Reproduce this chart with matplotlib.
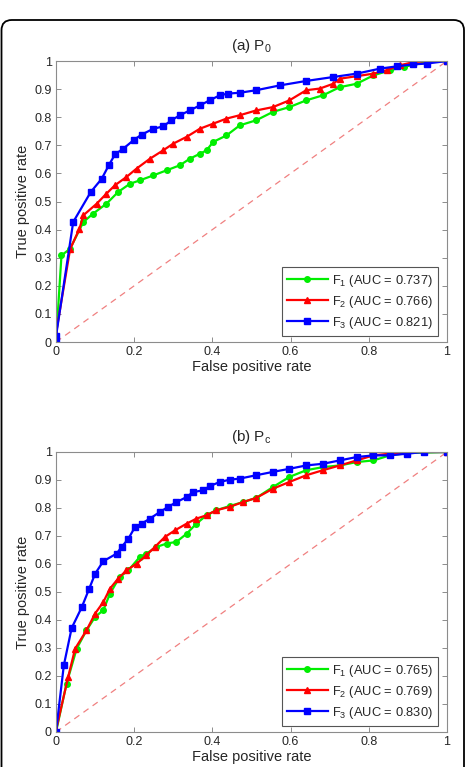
import matplotlib
matplotlib.use("Agg")
import matplotlib.pyplot as plt
from matplotlib.patches import FancyBboxPatch

plt.rcParams['font.family'] = ['Liberation Sans', 'DejaVu Sans']
plt.rcParams['mathtext.default'] = 'regular'

# ---- data: panel (a) P0 ----
a_f1_fpr = [0, 0.014, 0.036, 0.07, 0.095, 0.129, 0.159, 0.189, 0.214, 0.249, 0.283, 0.317, 0.342, 0.368, 0.385,
            0.402, 0.436, 0.47, 0.512, 0.555, 0.597, 0.64, 0.683, 0.726, 0.769, 0.812, 0.854, 0.889, 0.949, 1]
a_f1_tpr = [0, 0.308, 0.332, 0.427, 0.457, 0.492, 0.534, 0.563, 0.575, 0.593, 0.611, 0.629, 0.652, 0.67, 0.682,
            0.712, 0.735, 0.771, 0.789, 0.819, 0.836, 0.86, 0.878, 0.907, 0.919, 0.949, 0.967, 0.979, 0.996, 1]
a_f2_fpr = [0, 0, 0.036, 0.06, 0.07, 0.104, 0.129, 0.151, 0.18, 0.206, 0.24, 0.274, 0.3, 0.334, 0.368, 0.402,
            0.436, 0.47, 0.512, 0.555, 0.597, 0.64, 0.675, 0.709, 0.726, 0.769, 0.812, 0.846, 0.88, 0.914, 0.949, 1]
a_f2_tpr = [0, 0.03, 0.33, 0.403, 0.451, 0.492, 0.528, 0.558, 0.587, 0.617, 0.652, 0.682, 0.706, 0.73, 0.759, 0.777,
            0.795, 0.807, 0.824, 0.836, 0.86, 0.896, 0.902, 0.919, 0.937, 0.946, 0.955, 0.967, 0.985, 0.996, 1.0, 1]
a_f3_fpr = [0, 0, 0.044, 0.089, 0.117, 0.135, 0.151, 0.172, 0.2, 0.219, 0.249, 0.274, 0.295, 0.317, 0.342, 0.368,
            0.393, 0.419, 0.44, 0.47, 0.512, 0.572, 0.64, 0.709, 0.769, 0.829, 0.872, 0.914, 0.949, 1]
a_f3_tpr = [0, 0.02, 0.427, 0.534, 0.581, 0.629, 0.668, 0.688, 0.72, 0.738, 0.759, 0.767, 0.789, 0.807, 0.824, 0.842,
            0.86, 0.878, 0.884, 0.887, 0.896, 0.913, 0.929, 0.943, 0.955, 0.973, 0.981, 0.988, 0.991, 1]

# ---- data: panel (b) Pc ----
b_f1_fpr = [0, 0.027, 0.053, 0.078, 0.1, 0.121, 0.138, 0.163, 0.185, 0.214, 0.231, 0.257, 0.283, 0.308, 0.334, 0.359,
            0.385, 0.41, 0.444, 0.478, 0.512, 0.555, 0.597, 0.64, 0.683, 0.726, 0.769, 0.812, 0.854, 0.897, 1]
b_f1_tpr = [0, 0.173, 0.298, 0.363, 0.411, 0.435, 0.494, 0.554, 0.577, 0.625, 0.637, 0.661, 0.673, 0.679, 0.708, 0.744,
            0.774, 0.792, 0.807, 0.821, 0.836, 0.875, 0.911, 0.935, 0.946, 0.952, 0.964, 0.97, 0.988, 0.996, 1]
b_f2_fpr = [0, 0.031, 0.049, 0.078, 0.1, 0.121, 0.138, 0.159, 0.18, 0.206, 0.231, 0.253, 0.278, 0.304, 0.334, 0.359,
            0.385, 0.41, 0.444, 0.478, 0.512, 0.555, 0.597, 0.64, 0.683, 0.726, 0.769, 0.812, 0.854, 0.897, 1]
b_f2_tpr = [0.006, 0.196, 0.298, 0.363, 0.423, 0.464, 0.512, 0.548, 0.577, 0.601, 0.631, 0.661, 0.696, 0.72, 0.744, 0.762,
            0.774, 0.792, 0.804, 0.821, 0.836, 0.869, 0.893, 0.917, 0.935, 0.952, 0.97, 0.988, 0.994, 1.0, 1]
b_f3_fpr = [0, 0.02, 0.04, 0.066, 0.085, 0.1, 0.121, 0.155, 0.168, 0.185, 0.202, 0.219, 0.24, 0.266, 0.287, 0.308,
            0.334, 0.351, 0.376, 0.393, 0.419, 0.444, 0.47, 0.512, 0.555, 0.597, 0.64, 0.683, 0.726, 0.769, 0.812,
            0.854, 0.897, 0.94, 1]
b_f3_tpr = [0, 0.238, 0.371, 0.446, 0.512, 0.565, 0.61, 0.637, 0.661, 0.69, 0.732, 0.744, 0.762, 0.786, 0.804, 0.821,
            0.839, 0.857, 0.863, 0.878, 0.893, 0.901, 0.905, 0.917, 0.929, 0.94, 0.952, 0.958, 0.97, 0.982, 0.988,
            0.988, 0.994, 1.0, 1]

titles = ['(a) P$_0$', '(b) P$_c$']
auc_a = ['0.737', '0.766', '0.821']
auc_b = ['0.765', '0.769', '0.830']
series_names = ['F$_1$', 'F$_2$', 'F$_3$']
xticks = [0, 0.2, 0.4, 0.6, 0.8, 1]
yticks = [0, 0.1, 0.2, 0.3, 0.4, 0.5, 0.6, 0.7, 0.8, 0.9, 1]
xtick_labels = ['0', '0.2', '0.4', '0.6', '0.8', '1']
ytick_labels = ['0', '0.1', '0.2', '0.3', '0.4', '0.5', '0.6', '0.7', '0.8', '0.9', '1']

W, H = 467, 767
fig = plt.figure(figsize=(W / 100, H / 100), dpi=100)

# rounded outer frame
frame = FancyBboxPatch((1.5 / W, -0.05), (464 - 1.5) / W, (767 - 20) / H + 0.05,
                       boxstyle="round,pad=0,rounding_size=0.022", transform=fig.transFigure,
                       fill=False, edgecolor='black', linewidth=1.3, mutation_aspect=W / H)
fig.patches.append(frame)

styles = [dict(color='#00ee00', marker='o', markersize=4),
          dict(color='#ff0000', marker='^', markersize=5),
          dict(color='#0000ff', marker='s', markersize=4)]

panels = [
    ((56, 61, 447, 342), [(a_f1_fpr, a_f1_tpr), (a_f2_fpr, a_f2_tpr), (a_f3_fpr, a_f3_tpr)], auc_a, titles[0]),
    ((56, 452, 447, 732), [(b_f1_fpr, b_f1_tpr), (b_f2_fpr, b_f2_tpr), (b_f3_fpr, b_f3_tpr)], auc_b, titles[1]),
]

text_col = '#262626'
spine_col = '#8c8c8c'

for (l, t, r, b), curves, aucs, title in panels:
    ax = fig.add_axes([l / W, 1 - b / H, (r - l) / W, (b - t) / H])
    ax.plot([0, 1], [0, 1], linestyle=(0, (5, 4)), color='#f08080', linewidth=0.9)
    for (x, y), st, name, auc in zip(curves, styles, series_names, aucs):
        ax.plot(x, y, linewidth=1.6, label=f'{name} (AUC = {auc})', **st)
    ax.set_xlim(0, 1)
    ax.set_ylim(0, 1)
    ax.set_xticks(xticks)
    ax.set_xticklabels(xtick_labels)
    ax.set_yticks(yticks)
    ax.set_yticklabels(ytick_labels)
    ax.tick_params(direction='in', length=3.5, width=0.7, colors=spine_col, labelcolor=text_col,
                   labelsize=9, top=True, right=True, pad=3)
    for sp in ax.spines.values():
        sp.set_color(spine_col)
        sp.set_linewidth(0.8)
    ax.set_xlabel('False positive rate', fontsize=10.5, color=text_col, labelpad=1)
    ax.set_ylabel('True positive rate', fontsize=10.5, color=text_col, labelpad=3)
    ax.set_title(title, fontsize=11, color=text_col, pad=8)
    leg = ax.legend(loc='lower right', bbox_to_anchor=(0.977, 0.021), borderaxespad=0, fontsize=9.3,
                    fancybox=False, framealpha=1, edgecolor='#555555', handlelength=3.2,
                    handletextpad=0.3, labelspacing=0.4, borderpad=0.4)
    leg.get_frame().set_linewidth(0.8)
    for txt in leg.get_texts():
        txt.set_color(text_col)

fig.savefig('out.png', dpi=100)
